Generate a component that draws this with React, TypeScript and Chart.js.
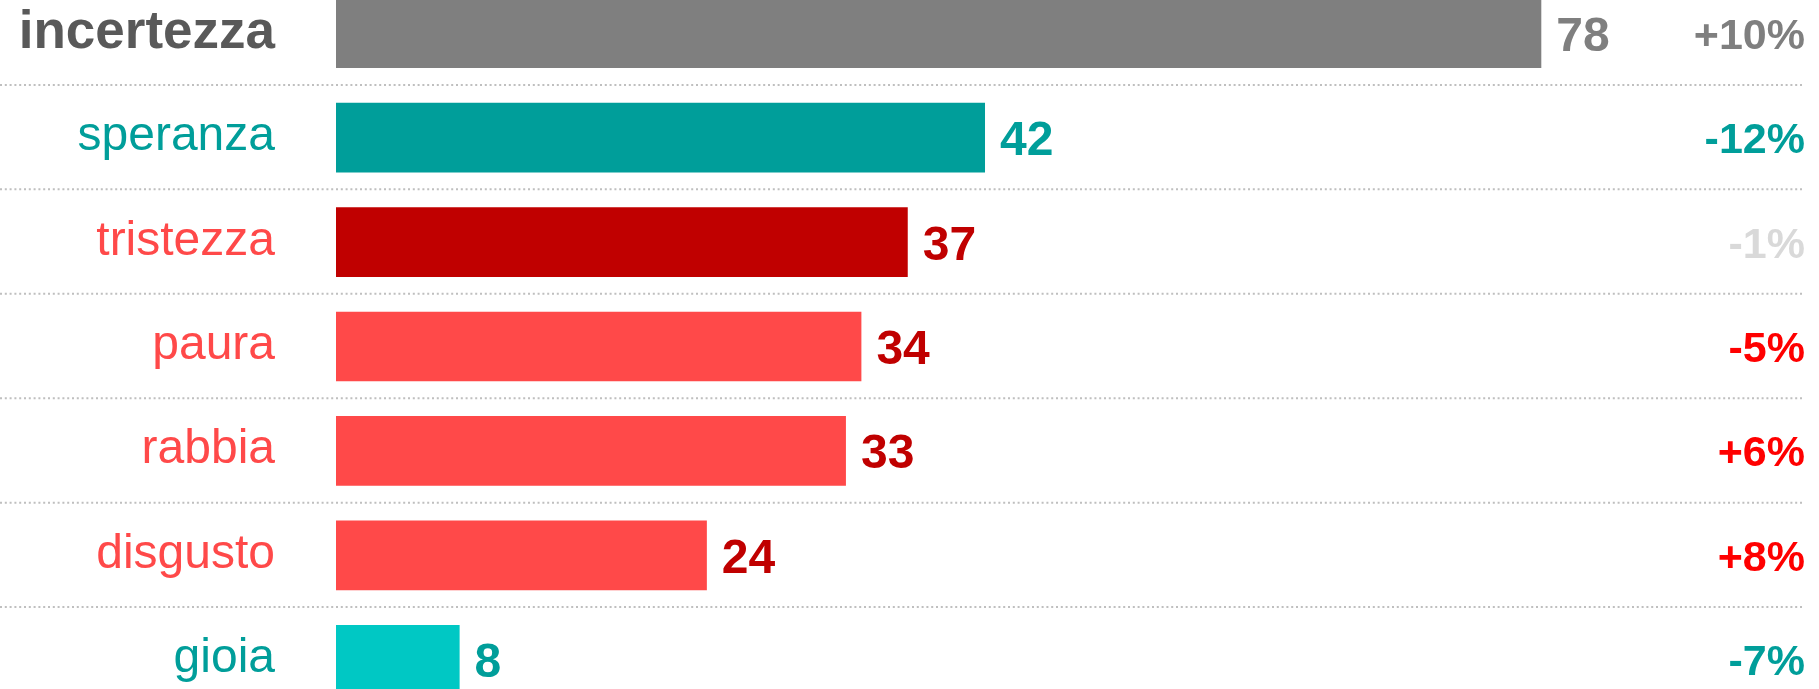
import { useEffect, useRef } from "react";
import { Chart, registerables } from "chart.js";

Chart.register(...registerables);

const categories = ["incertezza", "speranza", "tristezza", "paura", "rabbia", "disgusto", "gioia"];
const values = [78, 42, 37, 34, 33, 24, 8];
const changes = ["+10%", "-12%", "-1%", "-5%", "+6%", "+8%", "-7%"];

const barColors = ["#7F7F7F", "#009E9A", "#C00000", "#FF4949", "#FF4949", "#FF4949", "#00C8C4"];
const labelColors = ["#595959", "#009E9A", "#FF4949", "#FF4949", "#FF4949", "#FF4949", "#009E9A"];
const valueColors = ["#7F7F7F", "#009E9A", "#C00000", "#C00000", "#C00000", "#C00000", "#009E9A"];
const changeColors = ["#7F7F7F", "#009E9A", "#D9D9D9", "#FF0000", "#FF0000", "#FF0000", "#009E9A"];

const FONT = "'Liberation Sans', Arial, sans-serif";
const W = 1819;
const H = 731;
const TOP_OFFSET = -19;

const textPlugin = {
  id: "emotionText",
  afterDatasetsDraw(chart: any) {
    const ctx = chart.ctx as CanvasRenderingContext2D;
    const xs = chart.scales.x;
    const ys = chart.scales.y;
    ctx.save();

    // dotted separators between rows
    ctx.strokeStyle = "#BFBFBF";
    ctx.lineWidth = 2;
    ctx.setLineDash([2, 2.8]);
    for (let i = 0; i < categories.length - 1; i++) {
      const y = (ys.getPixelForValue(i) + ys.getPixelForValue(i + 1)) / 2 - 0.5;
      ctx.beginPath();
      ctx.moveTo(0, y);
      ctx.lineTo(1804, y);
      ctx.stroke();
    }
    ctx.setLineDash([]);

    ctx.textBaseline = "alphabetic";
    categories.forEach((cat, i) => {
      const cy = ys.getPixelForValue(i);
      // category label
      const first = i === 0;
      ctx.font = first ? `bold 53px ${FONT}` : `48px ${FONT}`;
      ctx.fillStyle = labelColors[i];
      ctx.textAlign = "right";
      ctx.fillText(cat, 275, cy + (first ? 14.5 : 12.5));

      // value label
      ctx.font = `bold 48px ${FONT}`;
      ctx.fillStyle = valueColors[i];
      ctx.textAlign = "left";
      ctx.fillText(String(values[i]), xs.getPixelForValue(values[i]) + 15, cy + 17.5);

      // change label
      ctx.font = `bold 43px ${FONT}`;
      ctx.fillStyle = changeColors[i];
      ctx.textAlign = "right";
      ctx.fillText(changes[i], 1805, cy + 15.5);
    });
    ctx.restore();
  },
};

export default function App() {
  const ref = useRef<HTMLCanvasElement | null>(null);

  useEffect(() => {
    if (!ref.current) return;
    const chart = new Chart(ref.current, {
      type: "bar",
      data: {
        labels: categories,
        datasets: [
          {
            data: values,
            backgroundColor: barColors,
            borderWidth: 0,
            barPercentage: 0.667,
            categoryPercentage: 1,
          },
        ],
      },
      options: {
        indexAxis: "y",
        animation: false,
        responsive: false,
        devicePixelRatio: 1,
        layout: { padding: { left: 336, right: 15, top: 0, bottom: 0 } },
        plugins: {
          legend: { display: false },
          tooltip: { enabled: false },
        },
        scales: {
          x: { display: false, min: 0, max: 95 },
          y: { display: false, offset: true },
        },
      },
      plugins: [textPlugin],
    });
    return () => chart.destroy();
  }, []);

  return (
    <div
      style={{
        position: "fixed",
        left: 0,
        top: 0,
        width: 1819,
        height: 689,
        overflow: "hidden",
        background: "#ffffff",
      }}
    >
      <canvas
        ref={ref}
        width={W}
        height={H}
        style={{ position: "absolute", left: 0, top: TOP_OFFSET, width: W, height: H }}
      />
    </div>
  );
}
